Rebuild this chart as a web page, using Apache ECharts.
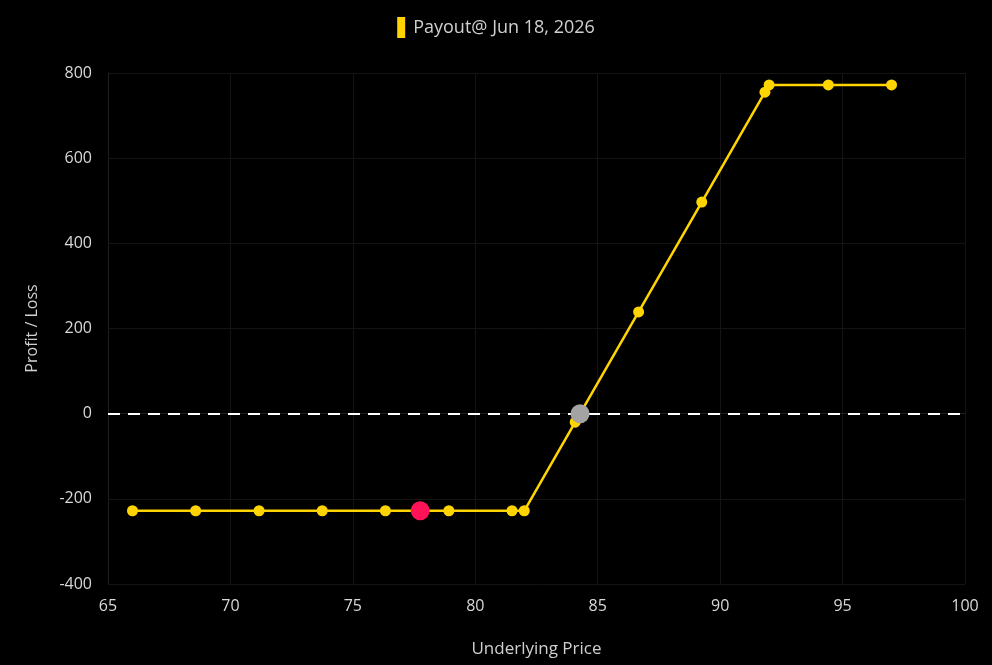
<!DOCTYPE html>
<html>
<head>
<meta charset="utf-8">
<script src="https://cdn.jsdelivr.net/npm/echarts@6/dist/echarts.min.js"></script>
<style>
  html, body { margin: 0; padding: 0; background: #000; }
  #main { width: 992px; height: 665px; }
</style>
</head>
<body>
<div id="main"></div>
<script>
// payout curve at expiry
var prices = [66, 68.58, 71.17, 73.75, 76.33, 78.92, 81.5, 82, 84.08, 86.67, 89.25, 91.83, 92, 94.42, 97];
var payout = [-228, -228, -228, -228, -228, -228, -228, -228, -20, 239, 497, 755, 772, 772, 772];
var currentPoint = [77.75, -228];
var breakEven = [84.28, 0];
var xTicks = [65, 100, 5];
var yTicks = [-400, 800, 200];

var fontFam = '"Open Sans", "Noto Sans", sans-serif';

var option = {
    backgroundColor: '#000',
    textStyle: { fontFamily: fontFam },
    legend: {
        top: 12,
        data: ['Payout@ Jun 18, 2026'],
        icon: 'rect',
        itemWidth: 8,
        itemHeight: 21,
        itemGap: 8,
        textStyle: { color: '#d0d0d0', fontSize: 18, fontFamily: fontFam, padding: [0, 0, 0, 3] }
    },
    grid: { left: 108, right: 27, top: 73, bottom: 81 },
    xAxis: {
        type: 'value',
        min: xTicks[0], max: xTicks[1], interval: xTicks[2],
        name: 'Underlying Price',
        nameLocation: 'middle',
        nameGap: 57,
        nameTextStyle: { color: '#d0d0d0', fontSize: 17 },
        axisLine: { show: true, lineStyle: { color: '#1f1f1f' } },
        axisTick: { show: false },
        axisLabel: { color: '#d8d8d8', fontSize: 16, margin: 14 },
        splitLine: { show: true, lineStyle: { color: '#141414' } }
    },
    yAxis: {
        type: 'value',
        min: yTicks[0], max: yTicks[1], interval: yTicks[2],
        name: 'Profit / Loss',
        nameLocation: 'middle',
        nameGap: 68,
        nameTextStyle: { color: '#d0d0d0', fontSize: 16 },
        axisLine: { show: true, lineStyle: { color: '#1f1f1f' } },
        axisTick: { show: false },
        axisLabel: { color: '#d8d8d8', fontSize: 16, margin: 16 },
        splitLine: { show: true, lineStyle: { color: '#141414' } }
    },
    series: [
        {
            name: 'Payout@ Jun 18, 2026',
            type: 'line',
            data: prices.map(function (p, i) { return [p, payout[i]]; }),
            symbol: 'circle',
            symbolSize: 11,
            color: '#ffd400',
            lineStyle: { width: 2.5, color: '#ffd400' },
            itemStyle: { color: '#ffd400' },
            z: 3,
            markLine: {
                silent: true,
                symbol: ['none', 'none'],
                label: { show: false },
                lineStyle: { color: '#ffffff', type: [12, 8], width: 2, opacity: 1 },
                data: [{ yAxis: 0 }],
                z: 2
            }
        },
        {
            name: 'current',
            type: 'scatter',
            data: [currentPoint],
            symbolSize: 19,
            itemStyle: { color: '#ff1258', opacity: 1 },
            z: 5
        },
        {
            name: 'breakeven',
            type: 'scatter',
            data: [breakEven],
            symbolSize: 19,
            itemStyle: { color: '#a3a3a3', opacity: 1 },
            z: 5
        }
    ]
};

var chart = echarts.init(document.getElementById('main'));
chart.setOption(option);
</script>
</body>
</html>
